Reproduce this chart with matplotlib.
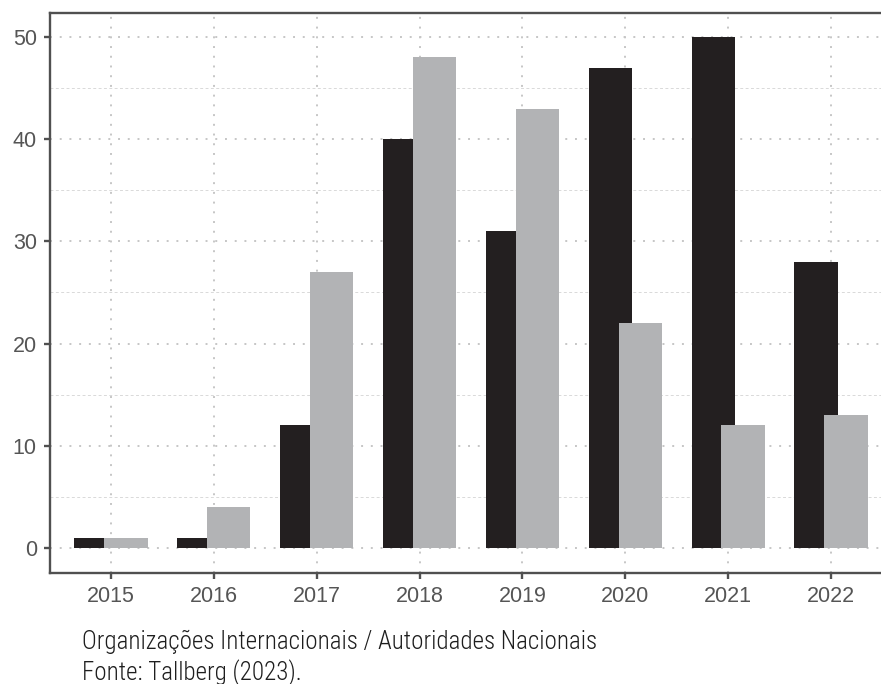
import matplotlib
matplotlib.use("Agg")
import matplotlib.pyplot as plt
import numpy as np
from matplotlib.ticker import MultipleLocator

years = ["2015", "2016", "2017", "2018", "2019", "2020", "2021", "2022"]
org_internacionais = [1, 1, 12, 40, 31, 47, 50, 28]
aut_nacionais = [1, 4, 27, 48, 43, 22, 12, 13]
caption_lines = ["Organizações Internacionais / Autoridades Nacionais",
                 "Fonte: Tallberg (2023)."]

fig = plt.figure(figsize=(8.81, 6.84), dpi=100)
ax = fig.add_axes([50/881, 1 - 573/684, 1 - 50/881, (573 - 13)/684])

x = np.arange(len(years))
w = 0.42
d = 0.145
ax.bar(x - d, org_internacionais, width=w, color="#231f20", zorder=3)
ax.bar(x + d, aut_nacionais, width=w, color="#b2b3b5", zorder=4)

ax.set_xlim(-0.593, 7.486)
ax.set_ylim(-2.45, 52.35)
ax.set_xticks(x)
ax.set_xticklabels(years)
ax.yaxis.set_major_locator(MultipleLocator(10))
ax.yaxis.set_minor_locator(MultipleLocator(5))
ax.tick_params(axis="y", which="minor", length=0)

ax.grid(True, which="major", axis="both", color="#c6c6c6", lw=1.4,
        ls=(0, (1, 4)), zorder=0)
ax.grid(True, which="minor", axis="y", color="#d9d9d9", lw=0.7,
        ls=(0, (3, 2.5)), zorder=0)

for s in ["left", "bottom", "top"]:
    ax.spines[s].set_color("#505050")
    ax.spines[s].set_linewidth(1.7)
ax.spines["right"].set_visible(False)

ax.tick_params(axis="both", which="major", length=4.5, width=1.7, color="#505050",
               labelsize=15.5, labelcolor="#555555", pad=5)
for lab in ax.get_xticklabels() + ax.get_yticklabels():
    lab.set_family(["Liberation Sans", "DejaVu Sans"])

fig.text(82/881, 1 - 649/684, caption_lines[0], ha="left", va="baseline",
         fontsize=18, color="#1e1e1e", fontweight="light",
         family=["Roboto Condensed", "DejaVu Sans"])
fig.text(82/881, 1 - 680/684, caption_lines[1], ha="left", va="baseline",
         fontsize=18, color="#1e1e1e", fontweight="light",
         family=["Roboto Condensed", "DejaVu Sans"])

fig.savefig("out.png", dpi=100)
